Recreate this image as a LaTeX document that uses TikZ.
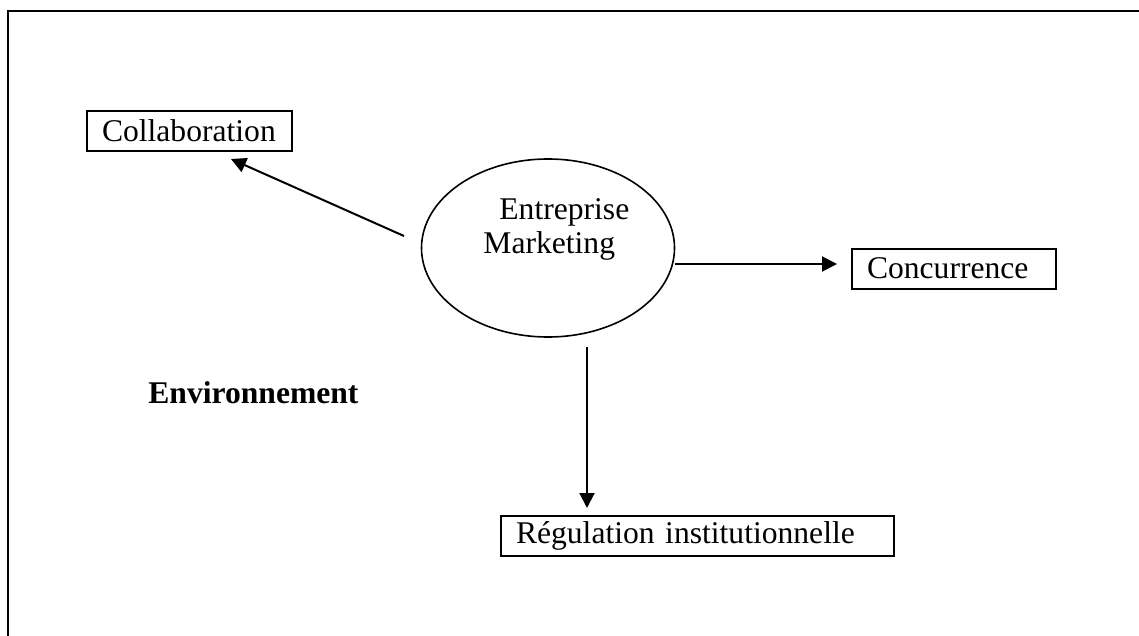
\documentclass[tikz,border=0pt]{standalone}
\usepackage{fontspec}
\setmainfont{Liberation Serif}
\usetikzlibrary{arrows.meta,positioning,shapes.geometric}

\begin{document}
\begin{tikzpicture}[
  x=0.5pt, y=-0.5pt,
  every node/.style={font=\fontsize{15.8}{17}\selectfont},
  tagbox/.style={draw,line width=1pt,inner xsep=7.5pt,inner ysep=0pt,
                 minimum height=20pt,align=left},
  link/.style={line width=1pt,-{Triangle[length=7.5pt,width=7.5pt]}},
]
  \useasboundingbox (0,0) rectangle (1139,636);

  % Frame (only top and left edges fall inside the page)
  \draw[line width=1pt] (8,636) -- (8,11) -- (1139,11);

  % Centre
  \node[ellipse,draw,line width=0.8pt,minimum width=126.5pt,minimum height=89pt,inner sep=0pt]
    (firm) at (548,248) {};
  \node[anchor=north west,inner sep=0pt,align=left] (firmtext) at (483,198)
    {\hspace*{8pt}Entreprise\\Marketing};

  % Surrounding boxes
  \node[tagbox,text width=87.5pt] (collab) at (189.5,131) {Collaboration};
  \node[tagbox,text width=87pt] (concur) at (954,268.5) {Concurrence};
  \node[tagbox,text width=181.5pt] (regul) at (697.5,536) {R\'egulation institutionnelle};

  \node[anchor=base west,inner sep=0pt,font=\fontsize{15.8}{17}\selectfont\bfseries]
    (env) at (148,403) {Environnement};

  % Arrows
  \coordinate (collabtail) at (404,236);
  \coordinate (collabhead) at (231,159);
  \coordinate (regultail) at (587,347);
  \coordinate (regulhead) at (587,508);
  \coordinate (concurhead) at (837,264);
  \draw[link] (collabtail) -- (collabhead);
  \draw[link] (firm.east |- concurhead) -- (concurhead);
  \draw[link] (regultail) -- (regulhead);
\end{tikzpicture}
\end{document}
